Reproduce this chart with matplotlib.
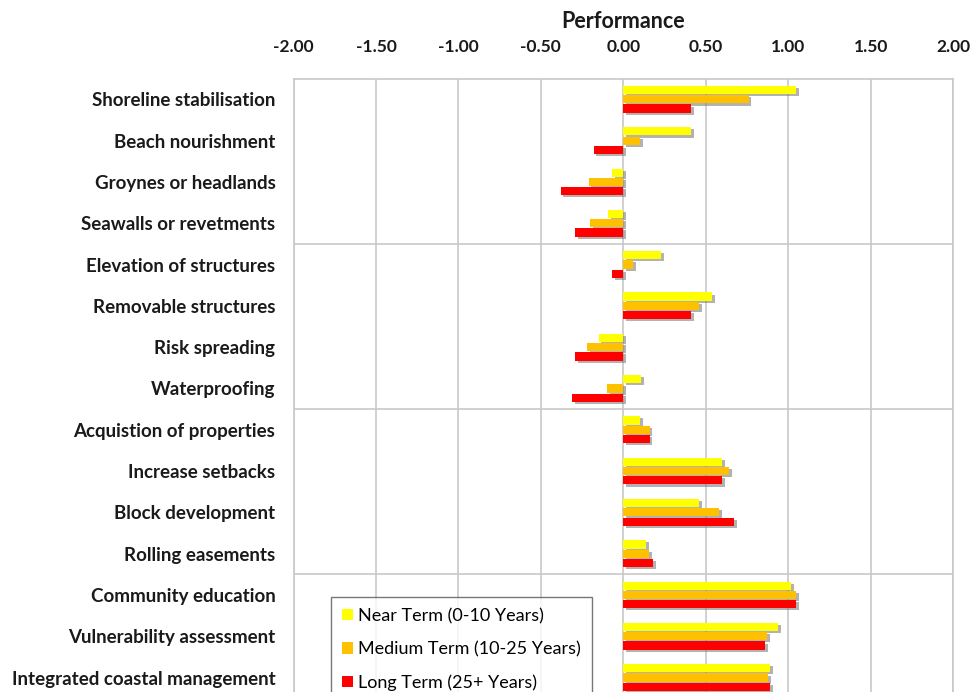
import matplotlib
matplotlib.use('Agg')
import matplotlib.pyplot as plt
import matplotlib.patheffects as pe
import numpy as np

plt.rcParams['font.family'] = ['Lato', 'DejaVu Sans']

# Adaptation options and their performance scores per time horizon
options = ['Shoreline stabilisation', 'Beach nourishment', 'Groynes or headlands',
           'Seawalls or revetments', 'Elevation of structures', 'Removable structures',
           'Risk spreading', 'Waterproofing', 'Acquistion of properties',
           'Increase setbacks', 'Block development', 'Rolling easements',
           'Community education', 'Vulnerability assessment',
           'Integrated coastal management']
near_term = [1.05, 0.41, -0.07, -0.09, 0.23, 0.54, -0.15, 0.11,
             0.10, 0.60, 0.46, 0.14, 1.02, 0.94, 0.89]
medium_term = [0.76, 0.10, -0.21, -0.20, 0.06, 0.46, -0.22, -0.10,
               0.16, 0.64, 0.58, 0.155, 1.05, 0.87, 0.88]
long_term = [0.41, -0.18, -0.38, -0.29, -0.07, 0.41, -0.29, -0.31,
             0.16, 0.60, 0.67, 0.18, 1.05, 0.86, 0.89]
series_names = ['Near Term (0-10 Years)', 'Medium Term (10-25 Years)', 'Long Term (25+ Years)']
series_colors = ['#FFFF00', '#FFC000', '#FF0000']
x_ticks = [-2.0, -1.5, -1.0, -0.5, 0.0, 0.5, 1.0, 1.5, 2.0]

fig = plt.figure(figsize=(9.71, 6.92), dpi=100)
ax = fig.add_axes([0.3023, -0.009, 0.6792, 0.8953])

y = np.arange(len(options))
step = 0.225
shadow = [pe.SimplePatchShadow(offset=(2, -1.5), shadow_rgbFace='#7f7f7f', alpha=0.6), pe.Normal()]
for k, (vals, name, col) in enumerate(zip([near_term, medium_term, long_term], series_names, series_colors)):
    bars = ax.barh(y + (k - 1) * step, vals, height=0.2, color=col, label=name,
                   edgecolor='none', zorder=3)
    for b in bars:
        b.set_path_effects(shadow)

ax.set_ylim(len(options) - 0.5, -0.5)
ax.set_xlim(-2, 2)

# vertical gridlines at each tick, horizontal separators between option groups
ax.set_xticks(x_ticks)
ax.set_xticklabels(['%.2f' % t for t in x_ticks])
ax.xaxis.tick_top()
ax.grid(axis='x', color='#c8c8c8', linewidth=1.2, zorder=0)
for sep in [3.5, 7.5, 11.5]:
    ax.axhline(sep, color='#c8c8c8', linewidth=1.2, zorder=0)

ax.set_yticks(y)
ax.set_yticklabels(options)
ax.tick_params(axis='x', length=0, pad=17, labelsize=12.5, colors='black')
ax.tick_params(axis='y', length=0, pad=13, labelsize=13.5)
for lbl in ax.get_yticklabels() + ax.get_xticklabels():
    lbl.set_fontweight('bold')
    lbl.set_color('#1a1a1a')

for side in ['top', 'left', 'right', 'bottom']:
    ax.spines[side].set_color('#c8c8c8')
    ax.spines[side].set_linewidth(1.2)

fig.text(0.6415, 1 - 21 / 692, 'Performance', ha='center', va='center',
         fontsize=15.5, fontweight='bold', color='#1a1a1a')

leg = ax.legend(loc='upper left', bbox_to_anchor=(331 / 971, 1 - 597 / 692),
                bbox_transform=fig.transFigure, fontsize=13, frameon=True,
                fancybox=False, handlelength=0.6, handleheight=0.6,
                labelspacing=0.95, borderpad=0.6, handletextpad=0.3,
                borderaxespad=0)
leg.get_frame().set_edgecolor('#555555')
leg.get_frame().set_linewidth(1.0)
for h in leg.legend_handles:
    h.set_path_effects([])

plt.savefig('out.png', dpi=100)
